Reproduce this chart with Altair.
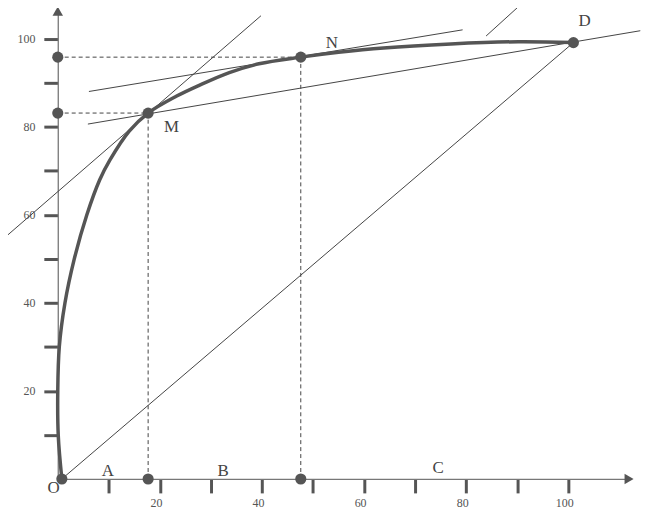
import altair as alt
import pandas as pd

# ---- data ----
curve_x = [0.8, 0.1, 0.0, 0.3, 1.4, 3.2, 5.7, 8.2, 10.2, 14.0, 17.7, 23.2, 27.7, 33.6, 39.4, 47.6, 55.0, 63.8, 77.0, 90.2, 101.0]
curve_y = [0.0, 9.8, 20.0, 30.0, 39.9, 49.8, 60.0, 67.9, 72.4, 79.0, 83.1, 86.9, 89.4, 92.3, 94.3, 95.8, 96.9, 97.9, 98.8, 99.3, 99.1]

dot_x = [0.8, 17.7, 47.6, 101.0, 0.0, 0.0, 17.7, 47.6]
dot_y = [0.0, 83.1, 95.8, 99.1, 83.1, 95.8, 0.0, 0.0]

# thin solid lines: OD diagonal, parallel through M, chord MD, tangent at N, stub parallel to OD
line_x1 = [0.8, -11.2, 5.9, 6.1, 83.9]
line_y1 = [0.0, 54.0, 80.6, 88.0, 100.6]
line_x2 = [101.0, 39.8, 114.1, 79.3, 91.5]
line_y2 = [99.1, 105.2, 101.8, 102.0, 108.6]

# dashed projection lines
dash_x1 = [0.0, 0.0, 17.7, 47.6]
dash_y1 = [83.1, 95.8, 0.0, 0.0]
dash_x2 = [17.7, 47.6, 17.7, 47.6]
dash_y2 = [83.1, 95.8, 83.1, 95.8]

label_text = ["O", "A", "B", "C", "M", "N", "D"]
label_x = [-0.8, 9.8, 32.4, 74.5, 22.3, 53.7, 103.2]
label_y = [-2.1, 1.9, 1.9, 2.4, 79.9, 99.1, 103.9]

tick_values = [10, 20, 30, 40, 50, 60, 70, 80, 90, 100]

X_MAX = 111.9
Y_MAX = 106.24
W, H = 574, 470

curve_df = pd.DataFrame({"i": list(range(len(curve_x))), "x": curve_x, "y": curve_y})
dot_df = pd.DataFrame({"x": dot_x, "y": dot_y})
line_df = pd.DataFrame({"x": line_x1, "y": line_y1, "x2": line_x2, "y2": line_y2})
dash_df = pd.DataFrame({"x": dash_x1, "y": dash_y1, "x2": dash_x2, "y2": dash_y2})
label_df = pd.DataFrame({"t": label_text, "x": label_x, "y": label_y})
arrow_df = pd.DataFrame({"x": [0.0, X_MAX], "y": [Y_MAX, 0.0], "s": ["triangle-up", "triangle-right"]})

xs = alt.Scale(domain=[0, X_MAX], nice=False, zero=False)
ys = alt.Scale(domain=[0, Y_MAX], nice=False, zero=False)

axis_common = dict(
    values=tick_values,
    labelExpr="datum.value % 20 == 0 ? datum.label : ''",
    labelFont="Liberation Serif",
    labelFontSize=12,
    labelColor="#555",
    tickColor="#555",
    tickWidth=3,
    tickSize=14,
    domainColor="#777",
    domainWidth=1.3,
    grid=False,
    title=None,
)

xaxis = alt.Axis(labelPadding=5, labelOffset=-4, **axis_common)
yaxis = alt.Axis(labelPadding=9, **axis_common)

lines = alt.Chart(line_df).mark_rule(color="#444", strokeWidth=1).encode(
    x=alt.X("x:Q", scale=xs, axis=xaxis),
    y=alt.Y("y:Q", scale=ys, axis=yaxis),
    x2="x2:Q",
    y2="y2:Q",
)

dashes = alt.Chart(dash_df).mark_rule(color="#444", strokeWidth=1, strokeDash=[4, 3]).encode(
    x=alt.X("x:Q", scale=xs),
    y=alt.Y("y:Q", scale=ys),
    x2="x2:Q",
    y2="y2:Q",
)

curve = alt.Chart(curve_df).mark_line(color="#555", strokeWidth=3.5, interpolate="catmull-rom").encode(
    x=alt.X("x:Q", scale=xs),
    y=alt.Y("y:Q", scale=ys),
    order="i:Q",
)

dots = alt.Chart(dot_df).mark_circle(color="#555", size=125, opacity=1).encode(
    x=alt.X("x:Q", scale=xs),
    y=alt.Y("y:Q", scale=ys),
)

arrows = alt.Chart(arrow_df).mark_point(filled=True, color="#555", size=110, opacity=1).encode(
    x=alt.X("x:Q", scale=xs),
    y=alt.Y("y:Q", scale=ys),
    shape=alt.Shape("s:N", scale=None),
)

labels = alt.Chart(label_df).mark_text(
    font="Liberation Serif", fontSize=17, color="#444", baseline="middle", align="center"
).encode(
    x=alt.X("x:Q", scale=xs),
    y=alt.Y("y:Q", scale=ys),
    text="t:N",
)

chart = alt.layer(lines, dashes, curve, dots, arrows, labels).properties(
    width=W,
    height=H,
    background="white",
    autosize=alt.AutoSizeParams(type="none"),
    padding={"left": 50, "top": 2, "right": 12, "bottom": 30},
).configure_view(stroke=None)

chart.save("out.html", embed_options={"renderer": "svg", "actions": False})
